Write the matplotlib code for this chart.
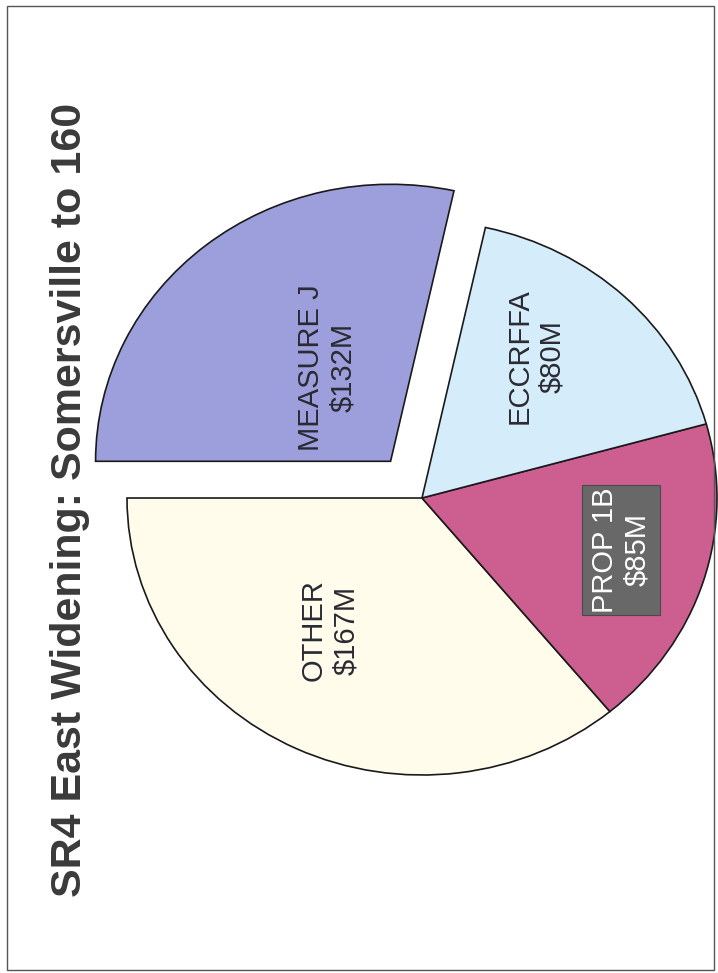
import matplotlib
matplotlib.use("Agg")
import matplotlib.pyplot as plt
from matplotlib.patches import Rectangle
import numpy as np

plt.rcParams['font.family'] = ['Liberation Sans', 'DejaVu Sans']

# ---- data ----
categories = ["OTHER", "PROP 1B", "ECCRFFA", "MEASURE J"]
values = [167, 85, 80, 132]            # $M
value_labels = ["$167M", "$85M", "$80M", "$132M"]
title = "SR4 East Widening: Somersville to 160"

# ---- style ----
colors = ["#fffcec", "#cc5f90", "#d5ecfa", "#9c9fdc"]
explode = [0, 0, 0, 0.17]
# label placement (radius, angle in deg) relative to pie centre
label_polar = [(0.57, 236.8), (0.70, -15.5), (0.64, 53.0), (0.57, 124.5)]

W, H = 718, 973
fig = plt.figure(figsize=(W / 100, H / 100), dpi=100)
fig.patch.set_facecolor("white")
ax = fig.add_axes([0, 0, 1, 1])

wedges, _ = ax.pie(values, colors=colors, explode=explode, startangle=180,
                   counterclock=True, radius=1.0,
                   wedgeprops=dict(edgecolor="#1a1a1a", linewidth=1.2))

# slightly elliptical (scanned) pie: set px per unit in x and y
cx, cy = 422, 498
rx, ry = 295, 277
ax.set_aspect('auto')
ax.set_xlim((0 - cx) / rx, (W - cx) / rx)
ax.set_ylim((cy - H) / ry, (cy - 0) / ry)
ax.axis('off')

boxed = None
for i, (cat, vl) in enumerate(zip(categories, value_labels)):
    r, a = label_polar[i]
    x, y = r * np.cos(np.radians(a)), r * np.sin(np.radians(a))
    if cat == "PROP 1B":
        boxed = ax.text(x, y, f"{cat}\n{vl}", rotation=90, ha='center', va='center',
                        fontsize=21, color='white', linespacing=1.2,
                        multialignment='center', zorder=5)
    else:
        ax.text(x, y, f"{cat}\n{vl}", rotation=90, ha='center', va='center',
                fontsize=21, color='#2a2a32', linespacing=1.2,
                multialignment='center', zorder=5)

# dark box behind the PROP 1B label, sized from the text extent
fig.canvas.draw()
bb = boxed.get_window_extent(renderer=fig.canvas.get_renderer())
padx, pady = 9, 2
rect = Rectangle((bb.x0 - padx, bb.y0 - pady), bb.width + 2 * padx, bb.height + 2 * pady,
                 transform=None, facecolor='#686868', edgecolor='#4a4a4a',
                 linewidth=0.8, zorder=4)
ax.add_artist(rect)

fig.text(50 / W, 1 - 500 / H, title, rotation=90, ha='left', va='center',
         fontsize=31, fontweight='bold', color='#3a3a3a')

fig.patches.append(Rectangle((7 / W, 1 - 970 / H), (714 - 7) / W, (970 - 6) / H,
                             transform=fig.transFigure, fill=False,
                             edgecolor='#555555', linewidth=1.0))

fig.savefig("out.png", dpi=100)
